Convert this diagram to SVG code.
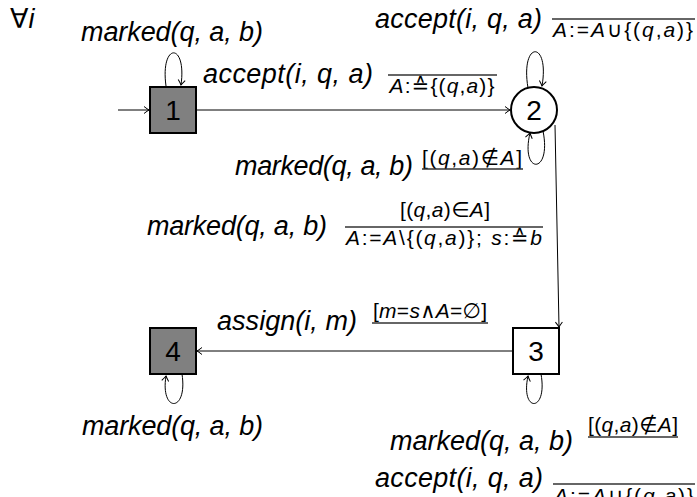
<svg xmlns="http://www.w3.org/2000/svg" width="697" height="497" viewBox="0 0 697 497">
<style>
.lbl{font-family:"Liberation Sans","DejaVu Sans",sans-serif;font-style:italic;font-size:27px;fill:#000}
.frac{font-family:"Liberation Sans","DejaVu Sans",sans-serif;font-style:italic;font-size:21px;fill:#000}
.up{font-style:normal}
.num{font-family:"Liberation Sans","DejaVu Sans",sans-serif;font-size:28px;fill:#000;text-anchor:middle}
.bar{stroke:#333;stroke-width:1.3;fill:none}
.edge{stroke:#000;stroke-width:1;fill:none;marker-end:url(#arr)}
.box{stroke:#000;stroke-width:2}
</style>
<defs>
<marker id="arr" markerUnits="userSpaceOnUse" markerWidth="12" markerHeight="12" viewBox="-6 -6 12 12" refX="0" refY="0" orient="auto">
<path d="M -5 -3.5 Q -1.5 -0.8 0 0 Q -1.5 0.8 -5 3.5" stroke="#000" stroke-width="1" fill="none"/>
</marker>
</defs>
<rect width="697" height="497" fill="#fff"/>

<g id="connectors">
<path class="edge" d="M 118 110 L 149 110"/>
<path class="edge" d="M 197 110 L 510 110"/>
<path class="edge" d="M 555 125 L 559 327"/>
<path class="edge" d="M 513 351 L 197 351"/>
<path class="edge" d="M 166 86 C 160 42 187 42 181 85"/>
<path class="edge" d="M 528 88 C 520 40 550 40 542 86"/>
<path class="edge" d="M 543 131 C 552 175 520 175 530 133"/>
<path class="edge" d="M 541 374 C 548 413 520 413 528 376"/>
<path class="edge" d="M 182 374 C 188 413 160 413 166 376"/>
</g>

<g id="node1">
<rect class="box" x="150" y="87" width="46" height="46" fill="#808080"/>
<text class="num" x="173" y="120">1</text>
</g>
<g id="node2">
<circle class="box" cx="534" cy="110" r="23" fill="#fff"/>
<text class="num" x="534" y="120">2</text>
</g>
<g id="node3">
<rect class="box" x="513" y="328" width="46" height="46" fill="#fff"/>
<text class="num" x="536" y="361">3</text>
</g>
<g id="node4">
<rect class="box" x="150" y="328" width="46" height="46" fill="#808080"/>
<text class="num" x="173" y="361">4</text>
</g>

<g id="labels">
<text class="lbl" x="10" y="28"><tspan class="up">∀</tspan>i</text>
<text class="lbl" x="81" y="41" textLength="182">marked(q, a, b)</text>

<text class="lbl" x="203" y="83" textLength="170">accept(i, q, a)</text>
<line class="bar" x1="388" y1="75" x2="497" y2="75"/>
<text class="frac" x="442" y="93" text-anchor="middle" textLength="105">A<tspan class="up">:≙{(</tspan>q<tspan class="up">,</tspan>a<tspan class="up">)}</tspan></text>

<text class="lbl" x="375" y="28" textLength="167">accept(i, q, a)</text>
<line class="bar" x1="552" y1="19" x2="695" y2="19"/>
<text class="frac" x="623" y="37" text-anchor="middle" textLength="140">A<tspan class="up">:=</tspan>A<tspan class="up">∪{(</tspan>q<tspan class="up">,</tspan>a<tspan class="up">)}</tspan></text>

<text class="lbl" x="235" y="175" textLength="178">marked(q, a, b)</text>
<text class="frac" x="472" y="165" text-anchor="middle" textLength="100"><tspan class="up">[(</tspan>q<tspan class="up">,</tspan>a<tspan class="up">)∉</tspan>A<tspan class="up">]</tspan></text>
<line class="bar" x1="422" y1="169" x2="523" y2="169"/>

<text class="lbl" x="147" y="235" textLength="180">marked(q, a, b)</text>
<text class="frac" x="445" y="217" text-anchor="middle" textLength="90"><tspan class="up">[(</tspan>q<tspan class="up">,</tspan>a<tspan class="up">)∈</tspan>A<tspan class="up">]</tspan></text>
<line class="bar" x1="345" y1="227" x2="543" y2="227"/>
<text class="frac" x="444" y="245" text-anchor="middle" textLength="196">A<tspan class="up">:=</tspan>A<tspan class="up">\{(</tspan>q<tspan class="up">,</tspan>a<tspan class="up">)}; </tspan>s<tspan class="up">:≙</tspan>b</text>

<text class="lbl" x="217" y="330" textLength="140">assign(i, m)</text>
<text class="frac" x="430" y="318" text-anchor="middle" textLength="114"><tspan class="up">[</tspan>m<tspan class="up">=</tspan>s<tspan class="up">∧</tspan>A<tspan class="up">=∅]</tspan></text>
<line class="bar" x1="372" y1="323" x2="488" y2="323"/>

<text class="lbl" x="82" y="435" textLength="181">marked(q, a, b)</text>

<text class="lbl" x="390" y="450" textLength="183">marked(q, a, b)</text>
<text class="frac" x="633" y="432" text-anchor="middle" textLength="90"><tspan class="up">[(</tspan>q<tspan class="up">,</tspan>a<tspan class="up">)∉</tspan>A<tspan class="up">]</tspan></text>
<line class="bar" x1="588" y1="437" x2="678" y2="437"/>

<text class="lbl" x="375" y="487" textLength="168">accept(i, q, a)</text>
<line class="bar" x1="553" y1="484" x2="695" y2="484"/>
<text class="frac" x="624" y="503" text-anchor="middle" textLength="140">A<tspan class="up">:=</tspan>A<tspan class="up">∪{(</tspan>q<tspan class="up">,</tspan>a<tspan class="up">)}</tspan></text>
</g>
</svg>
